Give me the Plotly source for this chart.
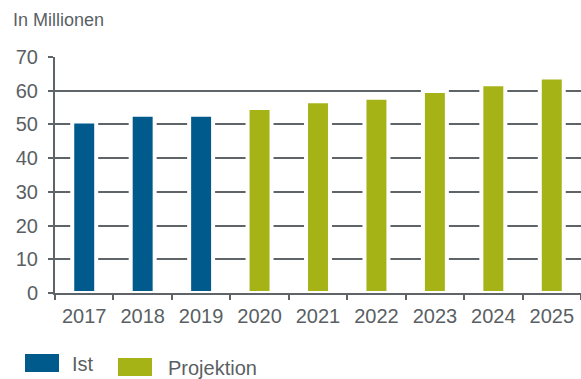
import plotly.graph_objects as go

years = ["2017", "2018", "2019", "2020", "2021", "2022", "2023", "2024", "2025"]
ist_years = ["2017", "2018", "2019"]
ist_values = [50.9, 52.9, 52.9]
proj_years = ["2020", "2021", "2022", "2023", "2024", "2025"]
proj_values = [54.9, 56.9, 57.9, 59.9, 61.9, 63.9]
y_ticks = [0, 10, 20, 30, 40, 50, 60, 70]

BLUE = "#005A8C"
GREEN = "#A6B317"
GREY = "#5F6469"
TEXT = "#5A5F64"
FONT = "Liberation Sans, Arial, sans-serif"

fig = go.Figure()
fig.add_trace(go.Bar(x=ist_years, y=ist_values, name="Ist", marker=dict(color=BLUE, line=dict(color="white", width=4)), width=0.41))
fig.add_trace(go.Bar(x=proj_years, y=proj_values, name="Projektion", marker=dict(color=GREEN, line=dict(color="white", width=4)), width=0.41))

W, H = 581, 379
L, R, T, B = 55, 0, 57, 86
pw, ph = W - L - R, H - T - B

def px(x):
    return (x - L) / pw

def py(y):
    return (H - B - y) / ph

fig.update_layout(
    width=W, height=H,
    margin=dict(l=L, r=R, t=T, b=B, pad=0),
    paper_bgcolor="white", plot_bgcolor="white",
    showlegend=False,
    bargap=0.5,
    font=dict(family=FONT, color=TEXT, size=20),
    xaxis=dict(
        type="category", categoryorder="array", categoryarray=years,
        showgrid=False, showline=True, linecolor=GREY, linewidth=2,
        ticks="outside", ticklen=5, tickwidth=2, tickcolor=GREY,
        tickson="boundaries", ticklabelstandoff=4,
        tickfont=dict(size=20, color=TEXT), zeroline=False,
        range=[-0.5, 8.5],
    ),
    yaxis=dict(
        range=[0, 70], tickvals=y_ticks,
        showgrid=True, gridcolor=GREY, gridwidth=2,
        showline=True, linecolor=GREY, linewidth=2,
        ticks="outside", ticklen=5, tickwidth=2, tickcolor=GREY,
        ticklabelstandoff=6,
        tickfont=dict(size=20, color=TEXT), zeroline=False,
    ),
)

fig.add_annotation(text="In Millionen", xref="paper", yref="paper", x=px(11), y=py(20),
                   xanchor="left", yanchor="middle", showarrow=False,
                   font=dict(size=18, color=TEXT, family=FONT))

fig.add_shape(type="rect", xref="paper", yref="paper", x0=px(25), x1=px(59), y0=py(354), y1=py(372),
              fillcolor=BLUE, line=dict(width=0))
fig.add_shape(type="rect", xref="paper", yref="paper", x0=px(118), x1=px(152), y0=py(358), y1=py(376),
              fillcolor=GREEN, line=dict(width=0))
fig.add_annotation(text="Ist", xref="paper", yref="paper", x=px(70), y=py(364),
                   xanchor="left", yanchor="middle", showarrow=False,
                   font=dict(size=20, color=TEXT, family=FONT))
fig.add_annotation(text="Projektion", xref="paper", yref="paper", x=px(166), y=py(368),
                   xanchor="left", yanchor="middle", showarrow=False,
                   font=dict(size=20, color=TEXT, family=FONT))

fig.write_html("out.html")
